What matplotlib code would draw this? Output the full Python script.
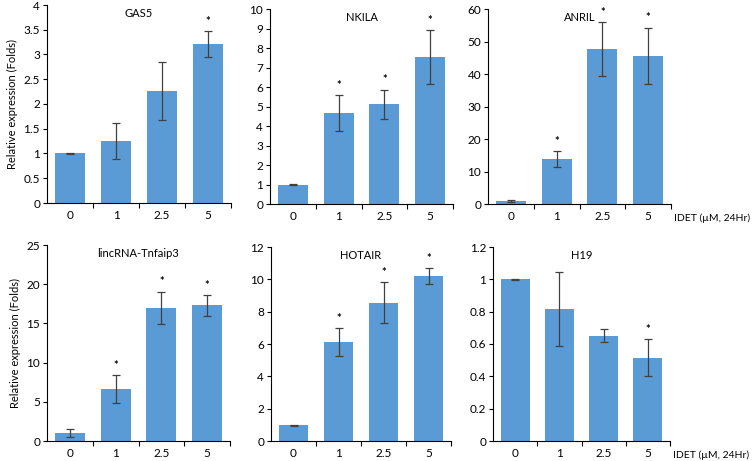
import matplotlib
matplotlib.use("Agg")
import matplotlib.pyplot as plt
from matplotlib.ticker import FuncFormatter

plt.rcParams["font.family"] = ["Lato", "DejaVu Sans"]

dosis = ["0", "1", "2.5", "5"]

gas5 = [1.0, 1.25, 2.26, 3.21]
gas5_err = [0.01, 0.36, 0.58, 0.26]
gas5_sig = [False, False, False, True]

nkila = [0.98, 4.67, 5.12, 7.53]
nkila_err = [0.03, 0.93, 0.75, 1.40]
nkila_sig = [False, True, True, True]

anril = [0.8, 13.8, 47.7, 45.6]
anril_err = [0.3, 2.5, 8.2, 8.7]
anril_sig = [False, True, True, True]

linc = [1.02, 6.64, 17.0, 17.3]
linc_err = [0.53, 1.8, 2.05, 1.3]
linc_sig = [False, True, True, True]

hotair = [0.97, 6.12, 8.56, 10.19]
hotair_err = [0.03, 0.87, 1.28, 0.49]
hotair_sig = [False, True, True, True]

h19 = [1.0, 0.815, 0.65, 0.515]
h19_err = [0.005, 0.23, 0.04, 0.115]
h19_sig = [False, False, False, True]

paneles = [
    ("GAS5", gas5, gas5_err, gas5_sig, 4, 0.5),
    ("NKILA", nkila, nkila_err, nkila_sig, 10, 1),
    ("ANRIL", anril, anril_err, anril_sig, 60, 10),
    ("lincRNA-Tnfaip3", linc, linc_err, linc_sig, 25, 5),
    ("HOTAIR", hotair, hotair_err, hotair_sig, 12, 2),
    ("H19", h19, h19_err, h19_sig, 1.2, 0.2),
]

# posiciones en pixeles: izquierda, ancho, y del cero, y del maximo
cajas = [
    (47, 184, 203, 5),
    (270, 183, 204, 9),
    (488, 183, 204, 9),
    (47, 183, 441, 245),
    (271, 180, 441, 247),
    (493, 177, 441, 247),
]

W, H = 754, 461
fig = plt.figure(figsize=(W / 100, H / 100), dpi=100)

azul = "#5B9BD5"
gris = "#404040"

for i, (titulo, vals, errs, sig, ymax, paso) in enumerate(paneles):
    izq, ancho, y0, y1 = cajas[i]
    ax = fig.add_axes([izq / W, (H - y0) / H, ancho / W, (y0 - y1) / H])
    x = list(range(len(dosis)))
    ax.bar(x, vals, width=0.66, color=azul, zorder=2)
    ax.errorbar(x, vals, yerr=errs, fmt="none", ecolor=gris, elinewidth=0.9,
                capsize=3, capthick=0.9, zorder=3)
    for xi, v, e, s in zip(x, vals, errs, sig):
        if s:
            ax.annotate("*", xy=(xi, v + e), xytext=(0, 3), textcoords="offset points",
                        ha="center", va="bottom", fontsize=8, fontweight="bold")
    ax.set_xlim(-0.5, 3.5)
    ax.set_ylim(0, ymax)
    ax.set_yticks([k * paso for k in range(int(round(ymax / paso)) + 1)])
    ax.yaxis.set_major_formatter(FuncFormatter(lambda v, p: f"{v:g}"))
    ax.set_xticks(x)
    ax.set_xticklabels(dosis)
    ax.set_xticks([0.5, 1.5, 2.5, 3.5], minor=True)
    ax.tick_params(axis="x", which="major", length=0, labelsize=8.5, pad=5)
    ax.tick_params(axis="x", which="minor", length=3.5, width=0.8, direction="out")
    ax.tick_params(axis="y", length=3, width=0.8, labelsize=8.5, pad=2)
    for lado in ["top", "right"]:
        ax.spines[lado].set_visible(False)
    for lado in ["left", "bottom"]:
        ax.spines[lado].set_linewidth(0.8)
    ax.text(0.5, 0.985, titulo, transform=ax.transAxes, ha="center", va="top", fontsize=8)
    if i in (0, 3):
        ax.set_ylabel("Relative expression (Folds)", fontsize=8, labelpad=4)
    if i in (2, 5):
        ax.annotate("IDET (µM, 24Hr)", xy=(1, 0), xycoords="axes fraction",
                    xytext=(2, -10.5), textcoords="offset points",
                    ha="left", va="center", fontsize=7.5)

fig.savefig("out.png", dpi=100)
